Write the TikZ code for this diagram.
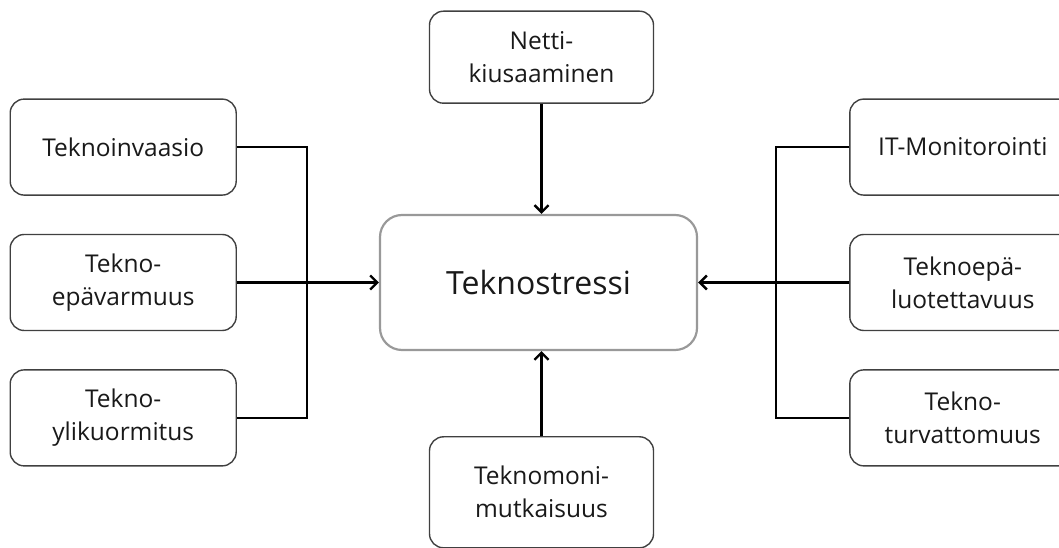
\documentclass[tikz,border=0pt]{standalone}
\usepackage{fontspec}
\setmainfont{Open Sans}
\usetikzlibrary{arrows.meta, positioning}

\begin{document}
\begin{tikzpicture}[
    node distance=38pt,
    box/.style={rectangle, draw=black!75, line width=1.4pt, rounded corners=14pt, minimum width=226pt, minimum height=96pt, align=center, inner sep=0pt, font=\fontsize{24.5}{33}\selectfont, text=black!90},
    core/.style={rectangle, draw=black!40, line width=2.2pt, rounded corners=22pt, minimum width=317pt, minimum height=135pt, align=center, font=\fontsize{32}{40}\selectfont, text=black!90},
    arrow/.style={-{Straight Barb[length=7pt,width=14pt]}, line width=2.4pt},
    link/.style={line width=2.4pt}
]
    \useasboundingbox (0,0) rectangle (1059pt,548pt);
    \clip (0,0) rectangle (1059pt,548pt);

    \node[core] (stress) at (538.5pt,265.5pt) {Teknostressi};

    % left side
    \node[box, left=142pt of stress] (epavarm) {Tekno-\\epävarmuus};
    \node[box, above=of epavarm] (invaasio) {Teknoinvaasio};
    \node[box, below=of epavarm] (ylikuorm) {Tekno-\\ylikuormitus};

    % right side
    \node[box, right=151pt of stress] (luotet) {Teknoepä-\\luotettavuus};
    \node[box, above=of luotet] (monitor) {IT-Monitorointi};
    \node[box, below=of luotet] (turvat) {Tekno-\\turvattomuus};

    % top and bottom
    \node[box, minimum width=224pt, minimum height=92pt, above=110pt of stress, xshift=3pt] (netti) {Netti-\\kiusaaminen};
    \node[box, minimum width=224pt, minimum height=111pt, below=85pt of stress, xshift=3pt] (monimut) {Teknomoni-\\mutkaisuus};

    \coordinate (lbus) at ([xshift=70pt]epavarm.east);
    \coordinate (rbus) at ([xshift=-73pt]luotet.west);

    \draw[link] (invaasio.east) -| (lbus) |- (ylikuorm.east);
    \draw[link] (monitor.west) -| (rbus) |- (turvat.west);
    \draw[arrow] (epavarm.east) -- (stress.west);
    \draw[arrow] (luotet.west) -- (stress.east);
    \draw[arrow] (netti) -- (netti |- stress.north);
    \draw[arrow] (monimut) -- (monimut |- stress.south);
\end{tikzpicture}
\end{document}
